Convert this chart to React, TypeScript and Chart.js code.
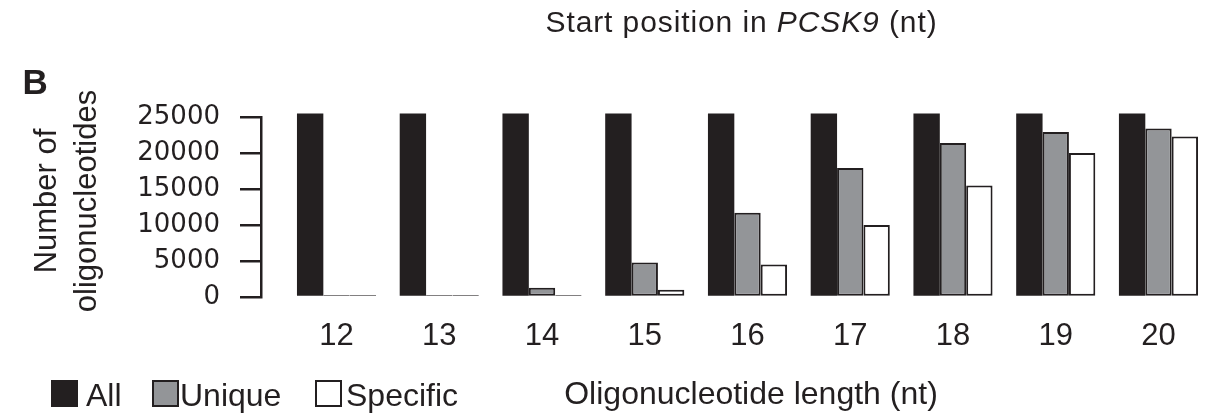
import React, { useEffect, useRef } from "react";
import { Chart, registerables } from "chart.js";

Chart.register(...registerables);

// ---- data ----
const lengths = [12, 13, 14, 15, 16, 17, 18, 19, 20];
const seriesNames = ["All", "Unique", "Specific"];
const allCounts = [25500, 25500, 25500, 25500, 25500, 25500, 25500, 25500, 25500];
const uniqueCounts = [20, 20, 1300, 4800, 11700, 17900, 21400, 22900, 23400];
const specificCounts = [20, 20, 20, 1000, 4500, 10000, 15500, 20000, 22300];
const yTicks = [0, 5000, 10000, 15000, 20000, 25000];
const yTitle = ["Number of", "oligonucleotides"];
const xTitle = "Oligonucleotide length (nt)";
const panelLetter = "B";
const topTextPre = "Start position in ";
const topTextGene = "PCSK9";
const topTextPost = " (nt)";

// ---- styles ----
const INK = "#231f20";
const seriesFill = [INK, "#939598", "#ffffff"];
const legendX = [51, 152, 315];
const legendGap = [8, 1, 4];
const titleShift: Record<string, [number, number]> = { x: [13, 0], y: [0, -6] };

// nudges the axis titles as in the figure
const axisTitleShift = {
  id: "axisTitleShift",
  beforeDraw(chart: any) {
    Object.keys(titleShift).forEach((id) => {
      const s = chart.scales[id];
      if (s && !s._shifted) {
        s._shifted = true;
        const orig = s.drawTitle.bind(s);
        s.drawTitle = function () {
          const ctx = chart.ctx;
          ctx.save();
          ctx.translate(titleShift[id][0], titleShift[id][1]);
          orig();
          ctx.restore();
        };
      }
    });
  },
};

export default function App() {
  const canvasRef = useRef<HTMLCanvasElement | null>(null);

  useEffect(() => {
    const canvas = canvasRef.current;
    if (!canvas) return;
    const series = [allCounts, uniqueCounts, specificCounts];
    const chart = new Chart(canvas, {
      type: "bar",
      data: {
        labels: lengths,
        datasets: series.map((vals, i) => ({
          label: seriesNames[i],
          data: vals,
          backgroundColor: seriesFill[i],
          borderColor: INK,
          borderWidth: i === 0 ? 0 : 2,
          borderSkipped: false,
          minBarLength: i === 0 ? 0 : 2,
          clip: false,
        })) as any,
      },
      plugins: [axisTitleShift],
      options: {
        responsive: false,
        animation: false,
        events: [],
        layout: { padding: { left: 0, right: 0, top: 117, bottom: 0 } },
        datasets: {
          bar: { barPercentage: 1, categoryPercentage: 0.77 },
        },
        plugins: {
          legend: { display: false },
          tooltip: { enabled: false },
        },
        scales: {
          x: {
            type: "linear",
            offset: false,
            min: 11.265,
            max: 20.55,
            afterBuildTicks: (scale: any) => {
              scale.ticks = lengths.map((v) => ({ value: v }));
            },
            afterFit: (scale: any) => {
              scale.height = 117;
            },
            grid: { display: false, drawTicks: false },
            border: { display: false },
            ticks: {
              autoSkip: false,
              maxRotation: 0,
              padding: 21,
              color: INK,
              font: { family: "'Liberation Sans', Arial, sans-serif", size: 31 },
              callback: (v: any) => String(v),
            },
            title: {
              display: true,
              text: xTitle,
              color: INK,
              font: { family: "'Liberation Sans', Arial, sans-serif", size: 32, lineHeight: 1.2 },
              padding: { top: 0, bottom: 0 },
            },
          },
          y: {
            type: "linear",
            min: 0,
            max: 25000,
            afterBuildTicks: (scale: any) => {
              scale.ticks = yTicks.map((v) => ({ value: v }));
            },
            afterFit: (scale: any) => {
              scale.width = 261;
            },
            grid: {
              drawOnChartArea: false,
              drawTicks: true,
              tickLength: 21,
              color: INK,
              lineWidth: 2.5,
            },
            border: { display: true, color: INK, width: 2.5 },
            ticks: {
              padding: 20,
              color: INK,
              font: { family: "'DejaVu Sans', sans-serif", size: 26 },
              callback: (v: any) => String(v),
            },
            title: {
              display: true,
              text: yTitle,
              color: INK,
              font: { family: "'Liberation Sans', Arial, sans-serif", size: 31, lineHeight: 40 / 31 },
              padding: { top: 27, bottom: 0 },
            },
          },
        },
      } as any,
    });
    return () => chart.destroy();
  }, []);

  return (
    <div
      style={{
        position: "fixed",
        left: 0,
        top: 0,
        width: 1215,
        height: 414,
        background: "#ffffff",
        color: INK,
        fontFamily: "'Liberation Sans', Arial, sans-serif",
        overflow: "hidden",
      }}
    >
      <canvas ref={canvasRef} width={1215} height={414} style={{ position: "absolute", left: 0, top: 0 }} />
      <div
        style={{
          position: "absolute",
          left: 545.5,
          top: 7,
          fontSize: 30,
          lineHeight: "30px",
          letterSpacing: "0.9px",
          whiteSpace: "nowrap",
        }}
      >
        {topTextPre}
        <i>{topTextGene}</i>
        {topTextPost}
      </div>
      <div
        style={{
          position: "absolute",
          left: 22.5,
          top: 63.5,
          fontSize: 35,
          lineHeight: "35px",
          fontWeight: "bold",
        }}
      >
        {panelLetter}
      </div>
      {seriesNames.map((name, i) => (
        <div
          key={name}
          style={{
            position: "absolute",
            left: legendX[i],
            top: 379,
            display: "flex",
            alignItems: "flex-start",
            whiteSpace: "nowrap",
          }}
        >
          <span
            style={{
              display: "inline-block",
              width: 27,
              height: 27,
              marginTop: 1,
              boxSizing: "border-box",
              background: seriesFill[i],
              border: `2px solid ${INK}`,
              marginRight: legendGap[i],
            }}
          />
          <span style={{ fontSize: 32, lineHeight: "32px" }}>{name}</span>
        </div>
      ))}
    </div>
  );
}
